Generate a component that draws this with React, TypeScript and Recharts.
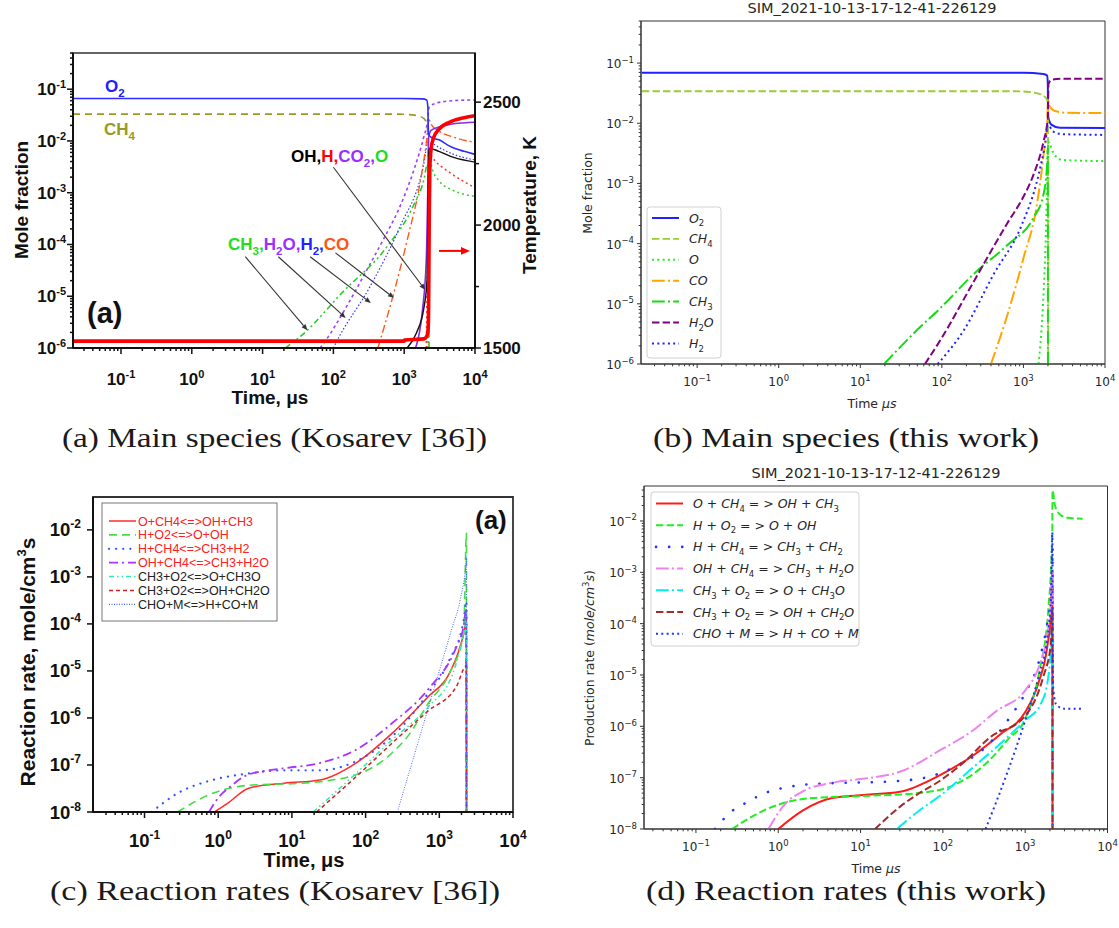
import React from 'react';
import { LineChart, Line, XAxis, YAxis, ReferenceArea, ReferenceLine } from 'recharts';

type Pt = [number, number];

// ---------------- (a) Kosarev: main species (time µs, mole fraction) ----------------
const A_O2: Pt[] = [[0.021, 0.066], [1000, 0.066], [1800, 0.065], [2080, 0.062], [2160, 0.045], [2185, 0.02], [2210, 0.0135], [2400, 0.0118], [3100, 0.0105], [4500, 0.0078], [7000, 0.0063], [10000, 0.0055]];
const A_CH4: Pt[] = [[0.021, 0.033], [800, 0.033], [1500, 0.031], [1900, 0.027], [2100, 0.02], [2180, 0.009], [2230, 0.0003], [2245, 1e-9]];
const A_H2O: Pt[] = [[65, 1e-6], [75, 1.3e-6], [150, 6e-6], [296, 3.2e-5], [500, 1.2e-4], [870, 5.4e-4], [1400, 3e-3], [1860, 0.011], [2150, 0.026], [2250, 0.045], [3000, 0.055], [5000, 0.06], [10000, 0.062]];
const A_CO2: Pt[] = [[1450, 1e-6], [1800, 5e-6], [2050, 5e-5], [2150, 1e-3], [2220, 0.012], [2400, 0.016], [3100, 0.0185], [5000, 0.0215], [10000, 0.023]];
const A_CO: Pt[] = [[425, 1e-6], [690, 9.8e-6], [1100, 1.2e-4], [1780, 2.5e-3], [2100, 0.012], [2220, 0.026], [2400, 0.021], [3100, 0.0155], [5000, 0.0118], [10000, 0.0094]];
const A_CH3: Pt[] = [[21, 1e-6], [38, 1.9e-6], [135, 1.2e-5], [570, 9e-5], [1330, 5.4e-4], [1900, 1.8e-3], [2120, 3.5e-3], [2200, 1.5e-3], [2215, 1e-9]];
const A_H2: Pt[] = [[100, 1e-6], [110, 1.3e-6], [326, 1.5e-5], [870, 2.2e-4], [1860, 3.2e-3], [2180, 0.0095], [2400, 0.0092], [3100, 0.0075], [5000, 0.0055], [10000, 0.0043]];
const A_OH: Pt[] = [[1100, 1e-6], [1500, 2e-6], [1900, 6e-6], [2100, 2e-5], [2170, 5e-4], [2210, 0.005], [2260, 0.0072], [3100, 0.0063], [5000, 0.0048], [10000, 0.0039]];
const A_H: Pt[] = [[2050, 1e-6], [2150, 1e-4], [2220, 3e-3], [2300, 0.0055], [2700, 0.0042], [4500, 0.0024], [10000, 0.00125]];
const A_O: Pt[] = [[2160, 1e-6], [2200, 1e-4], [2240, 0.005], [2500, 0.0028], [3100, 0.0017], [5000, 0.0011], [10000, 0.00085]];
const A_T: Pt[] = [[0.021, 1528], [1000, 1528], [1010, 1532], [1900, 1537], [2100, 1550], [2180, 1580], [2210, 1650], [2235, 1850], [2260, 2050], [2300, 2230], [2400, 2310], [2600, 2355], [3100, 2390], [4500, 2420], [7000, 2437], [10000, 2445]];
// annotation arrows (data coordinates: start -> end)
const A_ARROWS: [Pt, Pt][] = [
  [[100, 0.0031], [1974, 1.33e-5]],
  [[5.7, 5.8e-5], [43, 2.2e-6]],
  [[16.7, 5.8e-5], [149, 3.8e-6]],
  [[47, 5.8e-5], [338, 7.4e-6]],
  [[107, 6.9e-5], [716, 9.3e-6]],
];
const A_T_ARROW: [Pt, Pt] = [[3100, 1895], [8500, 1895]];

// ---------------- (b) this work: main species ----------------
const B_O2: Pt[] = [[0.021, 0.069], [1000, 0.069], [1750, 0.066], [1950, 0.062], [1990, 0.045], [2000, 0.02], [2020, 0.0125], [2200, 0.0095], [2800, 0.0084], [10000, 0.0083]];
const B_CH4: Pt[] = [[0.021, 0.034], [800, 0.034], [1400, 0.032], [1800, 0.028], [1960, 0.024], [2000, 0.02], [2012, 1e-9]];
const B_O: Pt[] = [[1530, 1e-6], [1710, 6.6e-6], [1860, 8.5e-5], [1960, 1e-3], [2015, 5e-3], [2100, 4.5e-3], [2400, 3e-3], [3000, 2.45e-3], [10000, 2.35e-3]];
const B_CO: Pt[] = [[400, 1e-6], [637, 6.6e-6], [1000, 5.7e-5], [1480, 4.9e-4], [1760, 2.9e-3], [1960, 0.012], [2005, 0.024], [2100, 0.019], [2500, 0.0158], [3500, 0.0149], [10000, 0.0148]];
const B_CH3: Pt[] = [[19.6, 1e-6], [50, 3.7e-6], [96, 8.5e-6], [244, 3.1e-5], [637, 9.5e-5], [1330, 2.7e-4], [1760, 6.5e-4], [1950, 2e-3], [1990, 4e-3], [2002, 1e-9]];
const B_H2O: Pt[] = [[62, 1e-6], [96, 2.5e-6], [244, 2.3e-5], [637, 2.2e-4], [1000, 6e-4], [1330, 1.4e-3], [1760, 4.9e-3], [1990, 0.012], [2030, 0.045], [2200, 0.053], [3000, 0.055], [10000, 0.055]];
const B_H2: Pt[] = [[89, 1e-6], [185, 3.6e-6], [437, 3.2e-5], [932, 1.9e-4], [1545, 1.45e-3], [1860, 4.9e-3], [2000, 0.0095], [2060, 0.0092], [2300, 0.0073], [3000, 0.0066], [10000, 0.0064]];

// ---------------- (c) Kosarev: reaction rates ----------------
const C_R1: Pt[] = [[0.89, 1e-8], [1.32, 1.5e-8], [2.6, 3.2e-8], [7.9, 4.1e-8], [24, 4.8e-8], [74, 1.1e-7], [228, 4.7e-7], [700, 2.8e-6], [1370, 8.9e-6], [1915, 3.3e-5], [2265, 1e-4], [2335, 1.5e-4], [2345, 1e-12]];
const C_R2: Pt[] = [[0.28, 1e-8], [0.84, 2.5e-8], [2.6, 3.7e-8], [13.8, 4.1e-8], [74, 6.2e-8], [228, 1.8e-7], [400, 4.7e-7], [700, 2e-6], [1370, 8.9e-6], [2140, 6.3e-5], [2335, 8.5e-3], [2345, 1e-12]];
const C_R3: Pt[] = [[0.125, 1e-8], [0.28, 2.5e-8], [0.84, 4.8e-8], [2.6, 6.6e-8], [7.9, 7.7e-8], [24, 7.7e-8], [74, 1.2e-7], [228, 4e-7], [700, 3.3e-6], [1370, 1.7e-5], [2140, 1.2e-4], [2335, 3e-4], [2345, 1e-12]];
const C_R4: Pt[] = [[0.75, 1e-8], [1.0, 2e-8], [1.5, 3.6e-8], [2.6, 6.3e-8], [7.9, 8.5e-8], [24, 1.1e-7], [74, 2.1e-7], [228, 7.7e-7], [700, 4e-6], [1710, 3.3e-5], [2140, 9e-5], [2300, 2e-4], [2345, 1e-12]];
const C_R5: Pt[] = [[19.5, 1e-8], [74, 6.6e-8], [228, 3.4e-7], [700, 1.7e-6], [1530, 8.9e-6], [2140, 6.3e-5], [2335, 1.2e-4], [2345, 1e-12]];
const C_R6: Pt[] = [[21.6, 1e-8], [74, 5.6e-8], [228, 2.9e-7], [700, 1.4e-6], [1710, 4.7e-6], [2265, 1.26e-5], [2335, 1.3e-5], [2345, 1e-12]];
const C_R7: Pt[] = [[270, 1e-8], [500, 2.6e-7], [1000, 1e-5], [1500, 8.5e-5], [1915, 3.2e-4], [2300, 2e-3], [2335, 2.7e-3], [2345, 1e-12]];

// ---------------- (d) this work: reaction rates ----------------
const D_R1: Pt[] = [[1.0, 1e-8], [2, 2.3e-8], [4.5, 4e-8], [11, 4.6e-8], [30, 5.3e-8], [90, 1.1e-7], [240, 2.8e-7], [500, 7e-7], [1000, 1.9e-6], [1450, 7e-6], [1850, 3.5e-5], [2050, 1.5e-4], [2140, 1e-3], [2155, 1e-12]];
const D_R2: Pt[] = [[0.275, 1e-8], [0.56, 2e-8], [1.15, 3.2e-8], [2.5, 4e-8], [11.3, 4.4e-8], [50, 5e-8], [137, 7.2e-8], [370, 2.2e-7], [607, 5.4e-7], [1000, 1.4e-6], [1490, 1.2e-5], [1910, 1.9e-4], [2130, 5e-3], [2150, 0.04], [2300, 0.02], [2700, 0.013], [3300, 0.0115], [5000, 0.011]];
const D_R3: Pt[] = [[0.17, 1e-8], [0.28, 2.3e-8], [0.4, 3.2e-8], [0.56, 4.3e-8], [0.84, 5.6e-8], [1.27, 6.5e-8], [1.9, 7.2e-8], [3.1, 7.6e-8], [6.9, 8e-8], [11.3, 8.1e-8], [25, 8.5e-8], [61, 1e-7], [137, 1.6e-7], [370, 4.7e-7], [670, 1.6e-6], [1000, 4.4e-6], [1490, 2e-5], [1820, 8.7e-5], [2100, 5e-4], [2145, 3e-3], [2155, 1e-12]];
const D_R4: Pt[] = [[0.76, 1e-8], [1.15, 2.8e-8], [2.07, 5.6e-8], [4.6, 8e-8], [11.3, 9.6e-8], [30, 1.3e-7], [95, 3.5e-7], [224, 8e-7], [450, 2e-6], [1000, 5e-6], [1500, 1.6e-5], [1850, 6e-5], [2050, 2.5e-4], [2140, 1e-3], [2155, 1e-12]];
const D_R5: Pt[] = [[27.6, 1e-8], [50, 2.2e-8], [95, 4.6e-8], [224, 1.5e-7], [600, 6e-7], [1000, 1.3e-6], [1560, 2.8e-6], [1885, 8e-6], [2050, 3e-5], [2140, 1.2e-4], [2155, 1e-12]];
const D_R6: Pt[] = [[15, 1e-8], [30, 2.7e-8], [50, 4.8e-8], [95, 9e-8], [180, 2e-7], [370, 6e-7], [1000, 1.6e-6], [1650, 9e-6], [2050, 4e-5], [2140, 2e-4], [2155, 1e-12]];
const D_R7: Pt[] = [[330, 1e-8], [600, 1.2e-7], [1000, 1.3e-6], [1500, 1.1e-5], [1850, 5e-5], [2050, 3e-4], [2140, 6e-3], [2155, 3e-5], [2200, 5e-6], [2400, 2.6e-6], [3000, 2.2e-6], [5000, 2.2e-6]];

// ---------------- tick values ----------------
const MANTISSA = [1, 2, 3, 4, 5, 6, 7, 8, 9];
const X_DECADES = [0.1, 1, 10, 100, 1000, 10000];
const A_Y_DECADES = [1e-6, 1e-5, 1e-4, 1e-3, 1e-2, 1e-1];
const C_Y_DECADES = [1e-8, 1e-7, 1e-6, 1e-5, 1e-4, 1e-3, 1e-2];
const A_T_TICKS = [1500, 1750, 2000, 2250, 2500];

const minorFill = (lo: number, hi: number, decades: number[]) => {
  const out: number[] = [];
  const all = [decades[0] / 10, ...decades];
  all.forEach((d) => MANTISSA.forEach((m) => {
    const v = +(m * d).toPrecision(6);
    if (v >= lo * 0.9999 && v <= hi * 1.0001) out.push(v);
  }));
  return Array.from(new Set(out)).sort((a, b) => a - b);
};

const rows = (a: Pt[]) => a.map(([t, v]) => ({ t, v }));

// ---------------- styles ----------------
const F_ORIGIN = '"Liberation Sans", Arial, sans-serif';
const F_MPL = '"DejaVu Sans", sans-serif';
const F_CAP = '"Liberation Serif", "Times New Roman", serif';

type S = { name: string; data: Pt[]; color: string; w: number; dash?: string; cap?: 'round' | 'butt' };

const A_LINES: S[] = [
  { name: 'CH4', data: A_CH4, color: '#9a9a22', w: 1.6, dash: '7 5' },
  { name: 'H2O', data: A_H2O, color: '#a040ff', w: 1.6, dash: '3 3' },
  { name: 'CH3', data: A_CH3, color: '#22cc22', w: 1.5, dash: '6 3 2 3 2 3' },
  { name: 'H2', data: A_H2, color: '#3333ff', w: 1.2, dash: '1.5 2' },
  { name: 'CO', data: A_CO, color: '#ff5a1a', w: 1.4, dash: '8 3 2 3' },
  { name: 'H', data: A_H, color: '#ff3030', w: 1.5, dash: '2 3' },
  { name: 'O', data: A_O, color: '#33cc33', w: 1.5, dash: '2 3' },
  { name: 'CO2', data: A_CO2, color: '#8a2be2', w: 1.6 },
  { name: 'OH', data: A_OH, color: '#111111', w: 1.4 },
  { name: 'O2', data: A_O2, color: '#2d2dff', w: 1.6 },
];
const A_TEMP: S = { name: 'T', data: A_T, color: '#ff0000', w: 3.6 };

const B_LINES: (S & { label: string })[] = [
  { name: 'O2', label: 'O_2', data: B_O2, color: '#2222ff', w: 2 },
  { name: 'CH4', label: 'CH_4', data: B_CH4, color: '#9acd32', w: 1.8, dash: '7.4 3.2' },
  { name: 'O', label: 'O', data: B_O, color: '#22ee22', w: 2, dash: '2 3.3' },
  { name: 'CO', label: 'CO', data: B_CO, color: '#ffa500', w: 2, dash: '12.8 3.2 2 3.2' },
  { name: 'CH3', label: 'CH_3', data: B_CH3, color: '#11dd11', w: 2, dash: '12.8 3.2 2 3.2' },
  { name: 'H2O', label: 'H_2O', data: B_H2O, color: '#800080', w: 2, dash: '7.4 3.2' },
  { name: 'H2', label: 'H_2', data: B_H2, color: '#2222ff', w: 2, dash: '2 3.3' },
];

const C_LINES: (S & { label: string; red: boolean })[] = [
  { name: 'r1', label: 'O+CH4<=>OH+CH3', red: true, data: C_R1, color: '#ff2a2a', w: 1.5 },
  { name: 'r2', label: 'H+O2<=>O+OH', red: true, data: C_R2, color: '#44dd44', w: 1.6, dash: '8 5' },
  { name: 'r3', label: 'H+CH4<=>CH3+H2', red: true, data: C_R3, color: '#3355ff', w: 2.2, dash: '0.1 7', cap: 'round' },
  { name: 'r4', label: 'OH+CH4<=>CH3+H2O', red: true, data: C_R4, color: '#aa33ff', w: 1.8, dash: '9 4 2 4' },
  { name: 'r5', label: 'CH3+O2<=>O+CH3O', red: false, data: C_R5, color: '#33e8b0', w: 1.5, dash: '5 3 1.5 3 1.5 3' },
  { name: 'r6', label: 'CH3+O2<=>OH+CH2O', red: false, data: C_R6, color: '#cc2222', w: 1.5, dash: '4 3' },
  { name: 'r7', label: 'CHO+M<=>H+CO+M', red: false, data: C_R7, color: '#4466ff', w: 1, dash: '1 1.5' },
];

const D_LINES: (S & { label: string })[] = [
  { name: 'r1', label: 'O+CH_4=>OH+CH_3', data: D_R1, color: '#ff1a1a', w: 2 },
  { name: 'r2', label: 'H+O_2=>O+OH', data: D_R2, color: '#22ee22', w: 2, dash: '7.4 3.2' },
  { name: 'r3', label: 'H+CH_4=>CH_3+CH_2', data: D_R3, color: '#2233ff', w: 2.6, dash: '0.1 13', cap: 'round' },
  { name: 'r4', label: 'OH+CH_4=>CH_3+H_2O', data: D_R4, color: '#ee82ee', w: 2, dash: '12.8 3.2 2 3.2' },
  { name: 'r5', label: 'CH_3+O_2=>O+CH_3O', data: D_R5, color: '#00f0f0', w: 2, dash: '12.8 3.2 2 3.2' },
  { name: 'r6', label: 'CH_3+O_2=>OH+CH_2O', data: D_R6, color: '#a52a2a', w: 2, dash: '7.4 3.2' },
  { name: 'r7', label: 'CHO+M=>H+CO+M', data: D_R7, color: '#2233ff', w: 2, dash: '2 3.3' },
];

// ---------------- tick renderer ----------------
type TickCfg = {
  side: 'bottom' | 'left' | 'right'; major: number; minor: number; stroke: string; sw: number;
  family: string; fs: number; weight: number; supFs: number; supRise: number; gap: number; base: number;
  minus: string; fill: string; log: boolean;
};
const makeTick = (c: TickCfg) => (p: any) => {
  const { x, y, payload } = p;
  const v = payload.value as number;
  let major = true;
  let label: any = null;
  if (c.log) {
    const l = Math.log10(v);
    const e = Math.round(l);
    major = Math.abs(l - e) < 1e-6;
    const sup = e < 0 ? c.minus + Math.abs(e) : String(e);
    label = [<tspan key="m">10</tspan>, <tspan key="s" fontSize={c.supFs} dy={-c.supRise}>{sup}</tspan>];
  } else {
    major = v % 500 === 0;
    label = String(v);
  }
  const len = major ? c.major : c.minor;
  const tp = { fontFamily: c.family, fontSize: c.fs, fontWeight: c.weight, fill: c.fill } as any;
  if (c.side === 'bottom') {
    return (
      <g>
        <line x1={x} x2={x} y1={y} y2={y + len} stroke={c.stroke} strokeWidth={c.sw} />
        {major && <text x={x} y={y + c.gap} textAnchor="middle" {...tp}>{label}</text>}
      </g>
    );
  }
  if (c.side === 'left') {
    return (
      <g>
        <line x1={x} x2={x - len} y1={y} y2={y} stroke={c.stroke} strokeWidth={c.sw} />
        {major && <text x={x - c.gap} y={y + c.base} textAnchor="end" {...tp}>{label}</text>}
      </g>
    );
  }
  return (
    <g>
      <line x1={x} x2={x + len} y1={y} y2={y} stroke={c.stroke} strokeWidth={c.sw} />
      {major && <text x={x + c.gap} y={y + c.base} textAnchor="start" {...tp}>{label}</text>}
    </g>
  );
};

const arrowShape = (color: string, sw: number, head: number) => (p: any) => {
  const { x1, y1, x2, y2 } = p;
  const a = Math.atan2(y2 - y1, x2 - x1);
  const hx = x2 - head * Math.cos(a);
  const hy = y2 - head * Math.sin(a);
  const w = head * 0.42;
  const pts = `${x2},${y2} ${hx - w * Math.sin(a)},${hy + w * Math.cos(a)} ${hx + w * Math.sin(a)},${hy - w * Math.cos(a)}`;
  return (
    <g>
      <line x1={x1} y1={y1} x2={hx} y2={hy} stroke={color} strokeWidth={sw} />
      <polygon points={pts} fill={color} />
    </g>
  );
};

const renderLines = (defs: S[], yAxisId?: string) =>
  defs.map((d) => (
    <Line
      key={d.name}
      name={d.name}
      yAxisId={yAxisId as any}
      data={rows(d.data)}
      dataKey="v"
      type="monotone"
      stroke={d.color}
      strokeWidth={d.w}
      strokeDasharray={d.dash}
      strokeLinecap={d.cap || 'butt'}
      dot={false}
      activeDot={false}
      isAnimationActive={false}
    />
  ));

// rich text: "_d" -> subscript digit, optional operators spacing, optional italic letters
const rich = (segs: [string, string][], fs: number, italic: boolean, ops: boolean, subRatio = 0.68) => {
  const out: any[] = [];
  let shifted = false;
  const d = fs * 0.3;
  let k = 0;
  segs.forEach(([s, color]) => {
    const re = /_(\d)|([+=>])|([^_+=>]+)/g;
    let m: RegExpExecArray | null;
    while ((m = re.exec(s))) {
      if (m[1]) {
        out.push(<tspan key={k++} fontSize={fs * subRatio} fontStyle="normal" dy={shifted ? 0 : d} fill={color}>{m[1]}</tspan>);
        shifted = true;
      } else {
        const isOp = !!m[2];
        const txt = isOp ? (ops ? (m[2] === '>' ? '> ' : ` ${m[2]} `) : m[2]) : m[3];
        out.push(<tspan key={k++} dy={shifted ? -d : 0} fontStyle={italic && !isOp ? 'italic' : 'normal'} fill={color}>{txt}</tspan>);
        shifted = false;
      }
    }
  });
  return out;
};

// ---------------- panels ----------------
const originX: TickCfg = { side: 'bottom', major: 6, minor: 3, stroke: '#111', sw: 1.5, family: F_ORIGIN, fs: 17, weight: 700, supFs: 11, supRise: 7, gap: 37, base: 6, minus: '-', fill: '#111', log: true };
const originY: TickCfg = { ...originX, side: 'left', gap: 7, base: 6 };
const originT: TickCfg = { ...originX, side: 'right', gap: 8, base: 6, log: false, minor: 4 };
const originCX: TickCfg = { ...originX, fs: 18.5, supFs: 12, supRise: 8, gap: 35 };
const originCY: TickCfg = { ...originCX, side: 'left', gap: 12, base: 6.5 };
const mplX: TickCfg = { side: 'bottom', major: 4, minor: 2.3, stroke: '#333', sw: 1, family: F_MPL, fs: 12, weight: 400, supFs: 8.5, supRise: 5.5, gap: 22, base: 5, minus: '\u2212', fill: '#262626', log: true };
const mplY: TickCfg = { ...mplX, side: 'left', gap: 7, base: 5 };

function PanelA() {
  const xd: [number, number] = [0.021, 1e4];
  const yd: [number, number] = [1e-6, 0.5];
  return (
    <LineChart width={560} height={430} margin={{ top: 53, left: 13, right: 15, bottom: 42 }}>
      <XAxis dataKey="t" type="number" scale="log" domain={xd} allowDataOverflow ticks={[...minorFill(xd[0], xd[1], X_DECADES)]} interval={0} tickSize={0} tickMargin={0} tickLine={false} tick={makeTick(originX)} axisLine={{ stroke: '#111', strokeWidth: 2 }} height={40} />
      <YAxis yAxisId="L" type="number" scale="log" domain={yd} allowDataOverflow ticks={minorFill(yd[0], yd[1], A_Y_DECADES)} interval={0} tickSize={0} tickMargin={0} tickLine={false} tick={makeTick(originY)} axisLine={{ stroke: '#111', strokeWidth: 2 }} width={60} />
      <YAxis yAxisId="T" orientation="right" type="number" domain={[1500, 2700]} allowDataOverflow ticks={A_T_TICKS} interval={0} tickSize={0} tickMargin={0} tickLine={false} tick={makeTick(originT)} axisLine={{ stroke: '#111', strokeWidth: 2 }} width={70} />
      <ReferenceArea yAxisId="L" x1={xd[0]} x2={xd[1]} y1={yd[0]} y2={yd[1]} fill="none" stroke="#333" strokeWidth={1.6} ifOverflow="visible" />
      {renderLines(A_LINES, 'L')}
      {renderLines([A_TEMP], 'T')}
      {A_ARROWS.map(([s, e], i) => (
        <ReferenceLine key={'ar' + i} yAxisId="L" segment={[{ x: s[0], y: s[1] }, { x: e[0], y: e[1] }]} ifOverflow="visible" shape={arrowShape('#333', 1.1, 6)} />
      ))}
      <ReferenceLine yAxisId="T" segment={[{ x: A_T_ARROW[0][0], y: A_T_ARROW[0][1] }, { x: A_T_ARROW[1][0], y: A_T_ARROW[1][1] }]} ifOverflow="visible" shape={arrowShape('#ff0000', 2, 9)} />
    </LineChart>
  );
}

function PanelB() {
  const xd: [number, number] = [0.0205, 1e4];
  const yd: [number, number] = [1e-6, 0.5];
  return (
    <LineChart width={559} height={420} margin={{ top: 21, left: 31, right: 14, bottom: 26 }}>
      <XAxis dataKey="t" type="number" scale="log" domain={xd} allowDataOverflow ticks={minorFill(xd[0], xd[1], X_DECADES)} interval={0} tickSize={0} tickMargin={0} tickLine={false} tick={makeTick(mplX)} axisLine={{ stroke: '#333', strokeWidth: 1 }} height={30} />
      <YAxis type="number" scale="log" domain={yd} allowDataOverflow ticks={minorFill(yd[0], yd[1], A_Y_DECADES)} interval={0} tickSize={0} tickMargin={0} tickLine={false} tick={makeTick(mplY)} axisLine={{ stroke: '#333', strokeWidth: 1 }} width={50} />
      <ReferenceArea x1={xd[0]} x2={xd[1]} y1={yd[0]} y2={yd[1]} fill="none" stroke="#333" strokeWidth={1} ifOverflow="visible" />
      {renderLines(B_LINES)}
    </LineChart>
  );
}

function PanelC() {
  const xd: [number, number] = [0.02, 1e4];
  const yd: [number, number] = [1e-8, 0.05];
  return (
    <LineChart width={560} height={420} margin={{ top: 37, left: 23, right: 47, bottom: 28 }}>
      <XAxis dataKey="t" type="number" scale="log" domain={xd} allowDataOverflow ticks={minorFill(xd[0] * 1.01, xd[1], X_DECADES)} interval={0} tickSize={0} tickMargin={0} tickLine={false} tick={makeTick(originCX)} axisLine={{ stroke: '#111', strokeWidth: 2 }} height={40} />
      <YAxis type="number" scale="log" domain={yd} allowDataOverflow ticks={C_Y_DECADES} interval={0} tickSize={0} tickMargin={0} tickLine={false} tick={makeTick(originCY)} axisLine={{ stroke: '#111', strokeWidth: 2 }} width={70} />
      <ReferenceArea x1={xd[0]} x2={xd[1]} y1={yd[0]} y2={yd[1]} fill="none" stroke="#333" strokeWidth={1.8} ifOverflow="visible" />
      {renderLines(C_LINES)}
    </LineChart>
  );
}

function PanelD() {
  const xd: [number, number] = [0.0234, 1e4];
  const yd: [number, number] = [1e-8, 0.048];
  return (
    <LineChart width={559} height={420} margin={{ top: 26, left: 34, right: 11.5, bottom: 21 }}>
      <XAxis dataKey="t" type="number" scale="log" domain={xd} allowDataOverflow ticks={minorFill(xd[0], xd[1], X_DECADES)} interval={0} tickSize={0} tickMargin={0} tickLine={false} tick={makeTick(mplX)} axisLine={{ stroke: '#333', strokeWidth: 1 }} height={30} />
      <YAxis type="number" scale="log" domain={yd} allowDataOverflow ticks={minorFill(yd[0], yd[1], C_Y_DECADES)} interval={0} tickSize={0} tickMargin={0} tickLine={false} tick={makeTick(mplY)} axisLine={{ stroke: '#333', strokeWidth: 1 }} width={50} />
      <ReferenceArea x1={xd[0]} x2={xd[1]} y1={yd[0]} y2={yd[1]} fill="none" stroke="#333" strokeWidth={1} ifOverflow="visible" />
      {renderLines(D_LINES)}
    </LineChart>
  );
}

const ANNOT_TOP: [string, string][] = [['OH', '#000'], [',', '#000'], ['H', '#ff0000'], [',', '#ff0000'], ['CO_2', '#9a30ff'], [',', '#9a30ff'], ['O', '#22dd22']];
const ANNOT_BOT: [string, string][] = [['CH_3', '#22dd22'], [',', '#22dd22'], ['H_2O', '#9a30ff'], [',', '#9a30ff'], ['H_2', '#2222ff'], [',', '#2222ff'], ['CO', '#ff5511']];
const TITLE = 'SIM_2021-10-13-17-12-41-226129';

function Overlay() {
  const ob = { fontFamily: F_ORIGIN, fontWeight: 700 } as any;
  const mp = { fontFamily: F_MPL, fill: '#262626' } as any;
  return (
    <svg width={1119} height={928} style={{ position: 'absolute', left: 0, top: 0, pointerEvents: 'none' }}>
      {/* (a) */}
      <text transform="translate(28,200) rotate(-90)" textAnchor="middle" fontSize={19} {...ob} fill="#111">Mole fraction</text>
      <text transform="translate(536,205) rotate(-90)" textAnchor="middle" fontSize={19} {...ob} fill="#111">Temperature, K</text>
      <text x={270} y={404} textAnchor="middle" fontSize={19} {...ob} fill="#111">Time, μs</text>
      <text x={105} y={92} fontSize={17} {...ob}>{rich([['O_2', '#2020ff']], 17, false, false)}</text>
      <text x={104} y={135} fontSize={17} {...ob}>{rich([['CH_4', '#9a9a22']], 17, false, false)}</text>
      <text x={291} y={162} fontSize={17} {...ob}>{rich(ANNOT_TOP, 17, false, false)}</text>
      <text x={228} y={250} fontSize={17} {...ob}>{rich(ANNOT_BOT, 17, false, false)}</text>
      <text x={87} y={323} fontSize={29} {...ob} fill="#111">(a)</text>

      {/* (b) */}
      <text x={872} y={13} textAnchor="middle" fontSize={14.5} {...mp}>{TITLE}</text>
      <text transform="translate(592,193) rotate(-90)" textAnchor="middle" fontSize={12.5} {...mp}>Mole fraction</text>
      <text x={872} y={408} textAnchor="middle" fontSize={12.5} {...mp} style={{ whiteSpace: 'pre' }}>Time <tspan fontStyle="italic">μs</tspan></text>
      <rect x={647} y={207} width={74} height={151} rx={3} fill="#fff" fillOpacity={0.85} stroke="#d0d0d0" />
      {B_LINES.map((d, i) => {
        const y = 218 + 20.9 * i;
        return (
          <g key={d.name}>
            <line x1={652} x2={679} y1={y} y2={y} stroke={d.color} strokeWidth={d.w} strokeDasharray={d.dash} />
            <text x={689} y={y + 4.5} fontSize={12.5} {...mp} style={{ whiteSpace: 'pre' }}>{rich([[d.label, '#262626']], 12.5, true, true)}</text>
          </g>
        );
      })}

      {/* (c) */}
      <text transform="translate(35,662) rotate(-90)" textAnchor="middle" fontSize={21} {...ob} fill="#111">Reaction rate, mole/cm<tspan fontSize={13} dy={-9}>3</tspan><tspan dy={9}>s</tspan></text>
      <text x={304} y={867} textAnchor="middle" fontSize={20} {...ob} fill="#111">Time, μs</text>
      <text x={475} y={529} fontSize={26} {...ob} fill="#111">(a)</text>
      <rect x={102} y={503} width={175} height={118} fill="#fff" stroke="#777" strokeWidth={1} />
      {C_LINES.map((d, i) => {
        const y = 521 + 13.9 * i;
        return (
          <g key={d.name}>
            <line x1={109} x2={136} y1={y} y2={y} stroke={d.color} strokeWidth={Math.max(d.w, 1.4)} strokeDasharray={d.dash} strokeLinecap={d.cap || 'butt'} />
            <text x={138} y={y + 4.5} fontSize={12.5} fontFamily={F_ORIGIN} fill={d.red ? '#ff2020' : '#222'}>{d.label}</text>
          </g>
        );
      })}

      {/* (d) */}
      <text x={876} y={478} textAnchor="middle" fontSize={14.5} {...mp}>{TITLE}</text>
      <text transform="translate(594,658) rotate(-90)" textAnchor="middle" fontSize={12.5} {...mp} style={{ whiteSpace: 'pre' }}>Production rate (<tspan fontStyle="italic">mole/cm</tspan><tspan fontSize={8.5} dy={-5}>3</tspan><tspan dy={5} fontStyle="italic">s</tspan>)</text>
      <text x={876} y={873} textAnchor="middle" fontSize={12.5} {...mp} style={{ whiteSpace: 'pre' }}>Time <tspan fontStyle="italic">μs</tspan></text>
      <rect x={651} y={492} width={208} height={154} rx={3} fill="#fff" fillOpacity={0.85} stroke="#d0d0d0" />
      {D_LINES.map((d, i) => {
        const y = 503.5 + 21.7 * i;
        return (
          <g key={d.name}>
            <line x1={656} x2={683} y1={y} y2={y} stroke={d.color} strokeWidth={d.w} strokeDasharray={d.dash} strokeLinecap={d.cap || 'butt'} />
            <text x={693} y={y + 4.5} fontSize={12.5} {...mp} style={{ whiteSpace: 'pre' }}>{rich([[d.label, '#262626']], 12.5, true, true)}</text>
          </g>
        );
      })}

      {/* captions */}
      <text x={62} y={447} fontSize={27} fontFamily={F_CAP} fill="#1a1a1a" textLength={425} lengthAdjust="spacingAndGlyphs">(a) Main species (Kosarev [36])</text>
      <text x={653} y={447} fontSize={27} fontFamily={F_CAP} fill="#1a1a1a" textLength={386} lengthAdjust="spacingAndGlyphs">(b) Main species (this work)</text>
      <text x={50} y={900} fontSize={27} fontFamily={F_CAP} fill="#1a1a1a" textLength={450} lengthAdjust="spacingAndGlyphs">(c) Reaction rates (Kosarev [36])</text>
      <text x={646} y={900} fontSize={27} fontFamily={F_CAP} fill="#1a1a1a" textLength={400} lengthAdjust="spacingAndGlyphs">(d) Reaction rates (this work)</text>
    </svg>
  );
}

export default function App() {
  return (
    <div style={{ position: 'relative', width: 1119, height: 928, background: '#fff', overflow: 'hidden' }}>
      <style>{'body{margin:0;}'}</style>
      <div style={{ position: 'absolute', left: 0, top: 0 }}><PanelA /></div>
      <div style={{ position: 'absolute', left: 560, top: 0 }}><PanelB /></div>
      <div style={{ position: 'absolute', left: 0, top: 460 }}><PanelC /></div>
      <div style={{ position: 'absolute', left: 560, top: 460 }}><PanelD /></div>
      <Overlay />
    </div>
  );
}
